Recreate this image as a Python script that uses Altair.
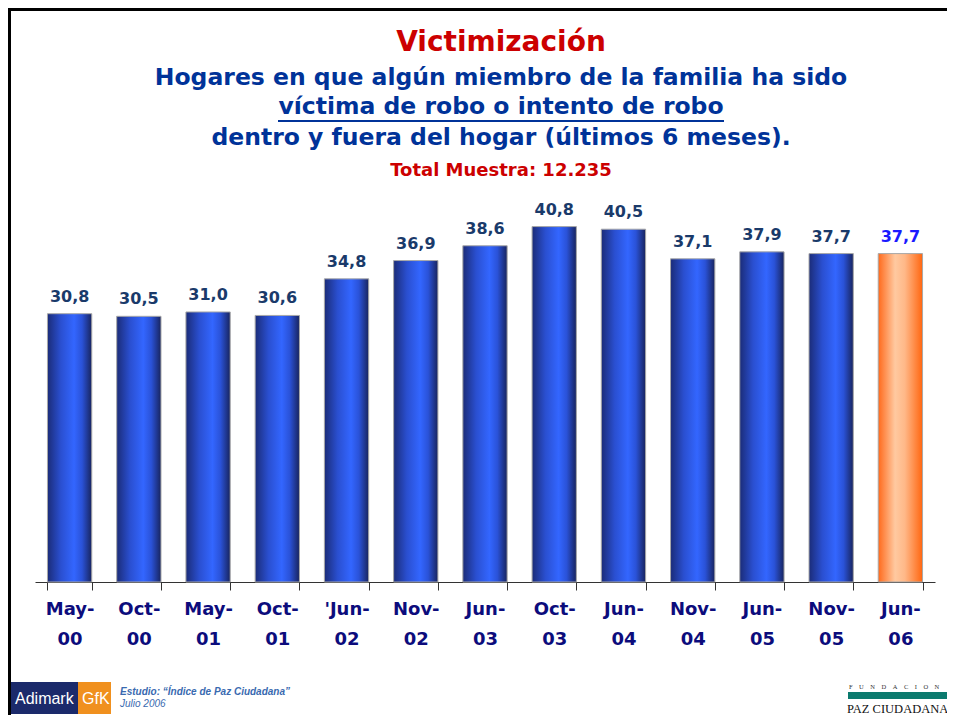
import altair as alt
import pandas as pd

periodos = ["May-00", "Oct-00", "May-01", "Oct-01", "'Jun-02", "Nov-02", "Jun-03",
            "Oct-03", "Jun-04", "Nov-04", "Jun-05", "Nov-05", "Jun-06"]
valores = [30.8, 30.5, 31.0, 30.6, 34.8, 36.9, 38.6, 40.8, 40.5, 37.1, 37.9, 37.7, 37.7]
destacado = "Jun-06"

titulo = "Victimización"
subtitulos = ["Hogares en que algún miembro de la familia ha sido",
              "víctima de robo o intento de robo",
              "dentro y fuera del hogar (últimos 6 meses)."]
muestra = "Total Muestra: 12.235"
estudio = "Estudio: \u201cÍndice de Paz Ciudadana\u201d"
fecha = "Julio 2006"
fundacion = "\u00a0\u00a0\u00a0\u00a0".join("FUNDACION")

df = pd.DataFrame({"periodo": periodos, "valor": valores})

FONT = "DejaVu Sans"
blue_grad = alt.Gradient(gradient="linear", x1=0, x2=1, y1=0, y2=0, stops=[
    alt.GradientStop(color="#1b2c78", offset=0),
    alt.GradientStop(color="#2a4fd0", offset=0.3),
    alt.GradientStop(color="#3366ff", offset=0.6),
    alt.GradientStop(color="#2a52d8", offset=0.78),
    alt.GradientStop(color="#18245e", offset=1)])
orange_grad = alt.Gradient(gradient="linear", x1=0, x2=1, y1=0, y2=0, stops=[
    alt.GradientStop(color="#ff6a1c", offset=0),
    alt.GradientStop(color="#ffc9a0", offset=0.38),
    alt.GradientStop(color="#ffb888", offset=0.6),
    alt.GradientStop(color="#ff6610", offset=1)])

is_last = alt.datum.periodo == destacado

xenc = alt.X("periodo:N", sort=None,
             scale=alt.Scale(paddingInner=0.36, paddingOuter=0.18),
             axis=alt.Axis(title=None, tickBand="extent", labelAngle=0,
                           labelExpr="[slice(datum.label,0,indexof(datum.label,'-')+1), slice(datum.label,indexof(datum.label,'-')+1)]",
                           labelFont=FONT, labelFontWeight="bold", labelFontSize=18,
                           labelColor="#0c0c7c", labelLineHeight=30, labelPadding=10,
                           labelBaseline="top",
                           tickSize=8, tickColor="#333333", domainColor="#333333",
                           grid=False))
yenc = alt.Y("valor:Q", scale=alt.Scale(domain=[0, 45]), axis=None)

base = alt.Chart(df)

bars = base.mark_bar(stroke="#a8a8a8", strokeWidth=1).encode(
    x=xenc, y=yenc,
    color=alt.condition(is_last, alt.value(orange_grad), alt.value(blue_grad)))

labels = base.transform_calculate(
    lbl="replace(format(datum.valor, '.1f'), '.', ',')"
).mark_text(font=FONT, fontWeight="bold", fontSize=16, baseline="bottom", dy=-9).encode(
    x=xenc, y=yenc, text="lbl:N",
    color=alt.condition(is_last, alt.value("#1a1aff"), alt.value("#1a3a6a")))


def txt(s, x, y, size, color, weight="bold", font=FONT, align="center", style="normal"):
    return alt.Chart(pd.DataFrame({"t": [s]})).mark_text(
        font=font, fontSize=size, fontWeight=weight, color=color, align=align,
        baseline="alphabetic", fontStyle=style).encode(
        text="t:N", x=alt.value(x), y=alt.value(y))


def rect(x, x2, y, y2, color):
    return alt.Chart(pd.DataFrame({"a": [0]})).mark_rect(color=color).encode(
        x=alt.value(x), x2=alt.value(x2), y=alt.value(y), y2=alt.value(y2))


CX = 466
layers = [
    bars, labels,
    txt(titulo, CX, -139, 28, "#cc0000"),
    txt(subtitulos[0], CX, -105, 23.5, "#003399"),
    txt(subtitulos[1], CX, -76, 23.5, "#003399"),
    txt(subtitulos[2], CX, -45, 23.5, "#003399"),
    txt(muestra, CX, -14, 18, "#cc0000"),
    rect(243, 689, -70, -68, "#003399"),
    # frame
    rect(-27, 912, -182, -179, "#000000"),
    rect(-27, -24, -182, 525, "#000000"),
    # logos
    rect(-24, 43, 492, 524, "#1b2a6b"),
    rect(43, 76, 492, 524, "#f0901e"),
    txt("Adimark", -20, 514, 16, "#ffffff", weight="normal", font="Liberation Sans", align="left"),
    txt("GfK", 47, 514, 16, "#ffffff", weight="normal", font="Liberation Sans", align="left"),
    txt(estudio, 85, 505, 10, "#3a6ab0", weight="bold", font="Liberation Sans", align="left", style="italic"),
    txt(fecha, 85, 517, 10, "#3a6ab0", weight="normal", font="Liberation Sans", align="left", style="italic"),
    txt(fundacion, 814, 499, 6.5, "#333333", weight="normal", font="Liberation Serif", align="left"),
    rect(813, 912, 502, 509, "#0b7a6e"),
    txt("PAZ CIUDADANA", 812, 523, 12.5, "#111111", weight="normal", font="Liberation Serif", align="left"),
]

chart = alt.layer(*layers).properties(
    width=900, height=392,
    autosize=alt.AutoSizeParams(type="none"),
    padding={"left": 27, "top": 182, "right": 12, "bottom": 133},
).configure_view(strokeWidth=0)

chart.save("out.html", embed_options={"renderer": "svg", "actions": False})
